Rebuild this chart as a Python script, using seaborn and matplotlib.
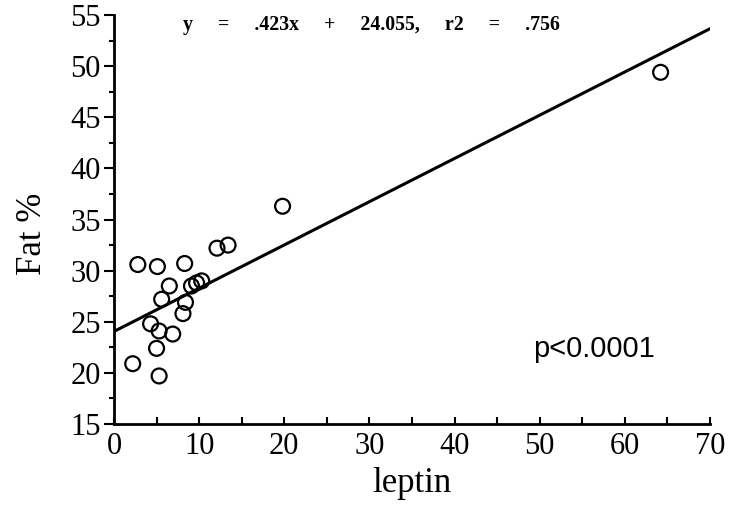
import matplotlib
matplotlib.use("Agg")
import matplotlib.pyplot as plt
import seaborn as sns
import numpy as np
import pandas as pd
from matplotlib.ticker import MultipleLocator

leptin = [2.8, 5.1, 8.3, 12.1, 13.4, 6.5, 9.1, 9.7, 10.3, 5.6, 8.4, 8.1,
          4.3, 5.3, 6.9, 5.0, 2.2, 5.3, 19.8, 64.2]
fat = [30.6, 30.4, 30.7, 32.2, 32.5, 28.5, 28.5, 28.8, 29.0, 27.2, 26.9, 25.8,
       24.8, 24.1, 23.8, 22.4, 20.9, 19.7, 36.3, 49.4]
slope = 0.423
intercept = 24.055
fit_x = [0, 70]
equation = "y     =     .423x     +     24.055,     r2     =     .756"
p_text = "p<0.0001"
x_ticks = [0, 10, 20, 30, 40, 50, 60, 70]
y_ticks = [15, 20, 25, 30, 35, 40, 45, 50, 55]

sns.set_theme(style="white")
plt.rcParams['font.family'] = ['Liberation Serif', 'DejaVu Serif']

fig = plt.figure(figsize=(7.33, 5.19), dpi=100)
ax = fig.add_axes([0.1555, 0.183, 0.8131, 0.788])

df = pd.DataFrame({"leptin": leptin, "fat": fat})
line_df = pd.DataFrame({"x": fit_x, "y": [slope * v + intercept for v in fit_x]})

sns.lineplot(data=line_df, x="x", y="y", ax=ax, color="black", linewidth=2.2)
sns.scatterplot(data=df, x="leptin", y="fat", ax=ax, s=115, facecolor="none",
                edgecolor="black", linewidth=1.6, zorder=3)

ax.set_xlim(0, 70)
ax.set_ylim(15, 55)
ax.set_xticks(x_ticks)
ax.set_yticks(y_ticks)
ax.xaxis.set_minor_locator(MultipleLocator(5))
ax.yaxis.set_minor_locator(MultipleLocator(2.5))
for s in ["top", "right"]:
    ax.spines[s].set_visible(False)
for s in ["left", "bottom"]:
    ax.spines[s].set_color("black")
    ax.spines[s].set_linewidth(2)
ax.tick_params(axis="x", which="both", direction="in", length=5, width=1.5,
               colors="black", labelsize=22, pad=6, bottom=True)
ax.tick_params(axis="y", which="major", direction="out", length=7, width=1.5,
               colors="black", labelsize=22, pad=2.5, left=True)
ax.tick_params(axis="y", which="minor", direction="out", length=3.5, width=1.5,
               colors="black", left=True)
ax.set_xlabel("leptin", fontsize=25, color="black", labelpad=4)
ax.set_ylabel("Fat %", fontsize=25, color="black")
ax.yaxis.set_label_coords(-0.109, 0.465)

ax.text(30.2, 54.0, equation, ha="center", va="center",
        fontsize=14.3, fontweight="bold", color="black")
ax.text(49.2, 22.3, p_text, ha="left", va="center", fontsize=21,
        family=["Liberation Sans", "DejaVu Sans"], color="black")

fig.savefig("out.png", dpi=100)
